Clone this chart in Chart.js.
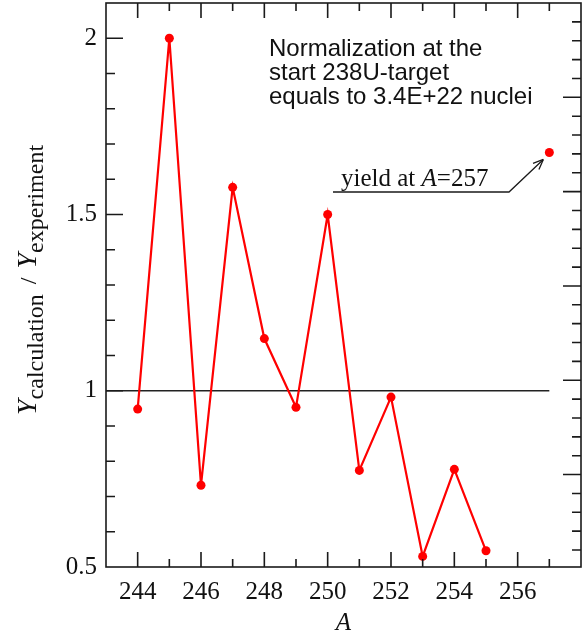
<!DOCTYPE html>
<html>
<head>
<meta charset="utf-8">
<script src="https://cdn.jsdelivr.net/npm/chart.js@4.4.1/dist/chart.umd.min.js"></script>
<style>
    html, body { margin: 0; padding: 0; background: #fff; }
    canvas { display: block; }
</style>
</head>
<body>
<canvas id="ratio-chart" width="582" height="635"></canvas>
<script>
// mass numbers and Y(calc)/Y(exp)
const massNumbers = [244, 245, 246, 247, 248, 249, 250, 251, 252, 253, 254, 255];
const ratios = [0.948, 2.0, 0.732, 1.577, 1.148, 0.953, 1.5, 0.774, 0.982, 0.53, 0.777, 0.546];

// separate point for A=257
const extraMass = [257];
const extraRatio = [1.676];

// unity reference line
const refMass = [243, 257];
const refRatio = [1, 1];

const xTickLabels = [244, 246, 248, 250, 252, 254, 256];
const yTickLabels = [0.5, 1, 1.5, 2];

const noteLines = ['Normalization at the', 'start 238U-target', 'equals to 3.4E+22 nuclei'];

const serif = '"Liberation Serif", "Times New Roman", serif';
const sans = '"Liberation Sans", Arial, sans-serif';

function toPoints(xs, ys) {
    return xs.map(function(x, i) { return {x: x, y: ys[i]}; });
}

// frame, inward ticks, y title, note text and arrow
const decorPlugin = {
    id: 'decor',
    afterDraw: function(chart) {
        const ctx = chart.ctx;
        const area = chart.chartArea;
        const xs = chart.scales.x;
        const ys = chart.scales.y;
        const rs = chart.scales.y2;

        ctx.save();
        ctx.strokeStyle = '#1a1a1a';
        ctx.lineWidth = 1.6;
        ctx.strokeRect(area.left, area.top, area.right - area.left, area.bottom - area.top);

        ctx.beginPath();
        // top and bottom ticks
        for (let a = 244; a <= 257; a++) {
            const px = xs.getPixelForValue(a);
            const len = (a % 2 === 0) ? 15 : 8;
            ctx.moveTo(px, area.bottom);
            ctx.lineTo(px, area.bottom - len);
            ctx.moveTo(px, area.top);
            ctx.lineTo(px, area.top + len);
        }
        // left ticks every 0.1
        for (let k = 6; k <= 20; k++) {
            const py = ys.getPixelForValue(k / 10);
            const len = (k % 5 === 0) ? 17 : 9;
            ctx.moveTo(area.left, py);
            ctx.lineTo(area.left + len, py);
        }
        // right ticks
        for (let k = 1; k <= 29; k++) {
            const py = rs.getPixelForValue(k);
            const len = (k % 5 === 0) ? 18 : 9;
            ctx.moveTo(area.right, py);
            ctx.lineTo(area.right - len, py);
        }
        ctx.stroke();

        // y axis title with subscripts
        ctx.save();
        ctx.translate(36, 415);
        ctx.rotate(-Math.PI / 2);
        ctx.fillStyle = '#111';
        ctx.textBaseline = 'alphabetic';
        ctx.textAlign = 'left';
        let pos = 0;
        ctx.font = 'italic 28px ' + serif;
        ctx.fillText('Y', pos, 0);
        pos += ctx.measureText('Y').width;
        ctx.font = '24px ' + serif;
        ctx.fillText('calculation', pos, 7);
        pos += ctx.measureText('calculation').width + 10;
        ctx.fillText('/', pos, 0);
        pos += ctx.measureText('/').width + 9;
        ctx.font = 'italic 28px ' + serif;
        ctx.fillText('Y', pos, 0);
        pos += ctx.measureText('Y').width;
        ctx.font = '24px ' + serif;
        ctx.fillText('experiment', pos, 7);
        ctx.restore();

        // note
        ctx.fillStyle = '#111';
        ctx.font = '24px ' + sans;
        ctx.textAlign = 'left';
        ctx.textBaseline = 'alphabetic';
        noteLines.forEach(function(line, i) {
            ctx.fillText(line, 269, 56 + i * 24);
        });

        // yield label with underline and arrow to the A=257 point
        const tipX = xs.getPixelForValue(extraMass[0]) - 6;
        const tipY = ys.getPixelForValue(extraRatio[0]) + 7;
        ctx.font = '25px ' + serif;
        let tx = 341;
        ctx.fillText('yield at ', tx, 186);
        tx += ctx.measureText('yield at ').width;
        ctx.font = 'italic 25px ' + serif;
        ctx.fillText('A', tx, 186);
        tx += ctx.measureText('A').width;
        ctx.font = '25px ' + serif;
        ctx.fillText('=257', tx, 186);

        ctx.lineWidth = 1.3;
        ctx.beginPath();
        ctx.moveTo(333, 192);
        ctx.lineTo(509, 192);
        ctx.lineTo(tipX, tipY);
        ctx.stroke();
        const ang = Math.atan2(tipY - 192, tipX - 509);
        ctx.beginPath();
        ctx.moveTo(tipX, tipY);
        ctx.lineTo(tipX - 11 * Math.cos(ang - 0.4), tipY - 11 * Math.sin(ang - 0.4));
        ctx.moveTo(tipX, tipY);
        ctx.lineTo(tipX - 11 * Math.cos(ang + 0.4), tipY - 11 * Math.sin(ang + 0.4));
        ctx.stroke();

        ctx.restore();
    }
};

const ctx = document.getElementById('ratio-chart').getContext('2d');
const ratioChart = new Chart(ctx, {
    type: 'line',
    data: {
        datasets: [{
            label: 'ratio',
            data: toPoints(massNumbers, ratios),
            borderColor: '#ff0000',
            backgroundColor: '#ff0000',
            borderWidth: 2.2,
            pointRadius: 4.5,
            pointBorderWidth: 0,
            tension: 0,
            order: 0
        }, {
            label: 'A=257',
            data: toPoints(extraMass, extraRatio),
            showLine: false,
            borderColor: '#ff0000',
            backgroundColor: '#ff0000',
            pointRadius: 4.5,
            pointBorderWidth: 0,
            order: 0
        }, {
            label: 'unity',
            data: toPoints(refMass, refRatio),
            borderColor: '#222',
            borderWidth: 1.5,
            pointRadius: 0,
            order: 2
        }]
    },
    options: {
        responsive: false,
        animation: false,
        devicePixelRatio: 1,
        layout: { autoPadding: false, padding: { left: 0, right: 1, top: 3, bottom: 0 } },
        plugins: {
            legend: { display: false },
            tooltip: { enabled: false }
        },
        scales: {
            x: {
                type: 'linear',
                min: 243,
                max: 258,
                grid: { display: false, drawTicks: false },
                border: { display: false },
                ticks: {
                    stepSize: 1,
                    autoSkip: false,
                    maxRotation: 0,
                    padding: 10,
                    color: '#111',
                    font: { family: serif, size: 25 },
                    callback: function(v) {
                        return xTickLabels.indexOf(v) >= 0 ? String(v) : '';
                    }
                },
                title: {
                    display: true,
                    text: 'A',
                    color: '#111',
                    font: { family: serif, size: 25, style: 'italic' },
                    padding: { top: 0, bottom: -3 }
                },
                afterFit: function(scale) {
                    scale.height = 68;
                    scale.paddingLeft = 0;
                    scale.paddingRight = 0;
                }
            },
            y: {
                type: 'linear',
                min: 0.5,
                max: 2.1,
                grid: { display: false, drawTicks: false },
                border: { display: false },
                ticks: {
                    stepSize: 0.1,
                    autoSkip: false,
                    padding: 9,
                    color: '#111',
                    font: { family: serif, size: 25 },
                    callback: function(v) {
                        for (let i = 0; i < yTickLabels.length; i++) {
                            if (Math.abs(v - yTickLabels[i]) < 1e-6) return String(yTickLabels[i]);
                        }
                        return '';
                    }
                },
                afterFit: function(scale) {
                    scale.width = 106;
                    scale.paddingTop = 0;
                    scale.paddingBottom = 0;
                }
            },
            y2: {
                type: 'linear',
                position: 'right',
                display: false,
                min: 0.1,
                max: 30
            }
        }
    },
    plugins: [decorPlugin]
});
</script>
</body>
</html>
